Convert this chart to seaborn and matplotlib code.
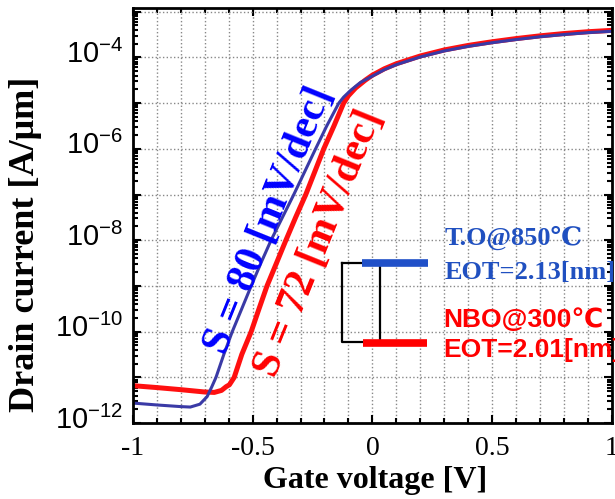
import matplotlib
matplotlib.use("Agg")
import matplotlib.pyplot as plt
import matplotlib.ticker as mticker
import matplotlib.transforms as mtransforms
import pandas as pd
import seaborn as sns

# Gate voltage [V] / drain current [A/um]
vg_to = [-1.00, -0.90, -0.80, -0.76, -0.72, -0.69, -0.67, -0.653, -0.62, -0.585,
         -0.545, -0.506, -0.465, -0.423, -0.375, -0.328, -0.282, -0.237, -0.19, -0.14,
         -0.12, -0.09, -0.05, 0.00, 0.05, 0.10, 0.20, 0.30, 0.40, 0.50,
         0.60, 0.70, 0.80, 0.90, 1.00]
id_to = [2.75e-12, 2.5e-12, 2.3e-12, 2.25e-12, 2.6e-12, 3.8e-12, 6.3e-12, 1.0e-11, 3.2e-11, 1.0e-10,
         3.2e-10, 1.0e-9, 3.2e-9, 1.0e-8, 3.2e-8, 1.0e-7, 3.2e-7, 1.0e-6, 3.2e-6, 1.0e-5,
         1.35e-5, 1.91e-5, 2.82e-5, 3.89e-5, 5.37e-5, 6.92e-5, 1.02e-4, 1.38e-4, 1.74e-4, 2.09e-4,
         2.45e-4, 2.82e-4, 3.16e-4, 3.47e-4, 3.72e-4]

vg_nbo = [-1.00, -0.90, -0.80, -0.70, -0.66, -0.63, -0.61, -0.597, -0.577, -0.545,
          -0.506, -0.473, -0.44, -0.40, -0.361, -0.32, -0.278, -0.24, -0.203, -0.16,
          -0.12, -0.10, -0.07, -0.03, 0.00, 0.05, 0.10, 0.20, 0.30, 0.40,
          0.50, 0.60, 0.70, 0.80, 0.90, 1.00]
id_nbo = [6.6e-12, 6.0e-12, 5.4e-12, 4.8e-12, 4.7e-12, 5.2e-12, 6.3e-12, 6.9e-12, 1.0e-11, 3.2e-11,
          1.0e-10, 3.2e-10, 1.0e-9, 3.2e-9, 1.0e-8, 3.2e-8, 1.0e-7, 3.2e-7, 1.0e-6, 3.2e-6,
          1.0e-5, 1.45e-5, 2.14e-5, 3.16e-5, 4.07e-5, 5.62e-5, 7.24e-5, 1.07e-4, 1.45e-4, 1.82e-4,
          2.19e-4, 2.57e-4, 2.95e-4, 3.31e-4, 3.63e-4, 3.89e-4]

x_ticks = [-1.0, -0.5, 0.0, 0.5, 1.0]
x_ticklabels = ["-1", "-0.5", "0", "0.5", "1"]
y_ticks = [1e-12, 1e-11, 1e-10, 1e-9, 1e-8, 1e-7, 1e-6, 1e-5, 1e-4, 1e-3]
y_ticklabels = [r"$\mathregular{10^{-12}}$", "", r"$\mathregular{10^{-10}}$", "",
                r"$\mathregular{10^{-8}}$", "", r"$\mathregular{10^{-6}}$", "",
                r"$\mathregular{10^{-4}}$", ""]

df = pd.concat([
    pd.DataFrame({"vg": vg_nbo, "id": id_nbo, "sample": "NBO"}),
    pd.DataFrame({"vg": vg_to, "id": id_to, "sample": "TO"}),
])

plt.rcParams["axes.unicode_minus"] = False
plt.rcParams["font.family"] = ["Liberation Serif", "DejaVu Serif"]

fig = plt.figure(figsize=(6.15, 4.99), dpi=100)
ax = fig.add_axes([0.216, 0.152, 0.779, 0.832])

sns.lineplot(data=df[df["sample"] == "NBO"], x="vg", y="id", ax=ax, color="#ff1010",
             linewidth=3.6, sort=False, estimator=None)
sns.lineplot(data=df[df["sample"] == "TO"], x="vg", y="id", ax=ax, color="#3a3aa6",
             linewidth=2.2, sort=False, estimator=None)

ax.set_yscale("log")
ax.set_xlim(-1, 1)
ax.set_ylim(1e-12, 1.2e-3)

ax.set_xticks(x_ticks)
ax.set_xticklabels(x_ticklabels, fontsize=20, family=["Liberation Serif"])
ax.xaxis.set_minor_locator(mticker.MultipleLocator(0.1))
ax.yaxis.set_major_locator(mticker.FixedLocator(y_ticks))
ax.set_yticklabels(y_ticklabels, fontsize=21, family=["Liberation Sans"])
ax.yaxis.set_minor_locator(mticker.LogLocator(base=10, subs=range(2, 10), numticks=30))
ax.yaxis.set_minor_formatter(mticker.NullFormatter())

ax.tick_params(which="both", direction="in", top=True, right=True, width=1.5)
ax.tick_params(which="major", length=6)
ax.tick_params(which="minor", length=3.5)
ax.tick_params(axis="x", which="major", pad=9)
ax.tick_params(axis="y", which="major", pad=7)
shift = mtransforms.ScaledTranslation(0, 0.06, fig.dpi_scale_trans)
for lab in ax.get_yticklabels():
    lab.set_transform(lab.get_transform() + shift)

ax.grid(True, which="major", axis="y", linestyle=":", color="#888888", linewidth=1)
ax.grid(True, which="both", axis="x", linestyle=":", color="#888888", linewidth=1)
for sp in ax.spines.values():
    sp.set_linewidth(2)
    sp.set_color("black")

ax.set_xlabel("Gate voltage [V]", fontsize=23, fontweight="bold")
ax.set_ylabel("Drain current [A/\u03bcm]", fontsize=26, fontweight="bold")
ax.xaxis.set_label_coords(0.505, -0.104)
ax.yaxis.set_label_coords(-0.19, 0.43)

# subthreshold slope annotations
ax.text(0.284, 0.489, "S = 80 [mV/dec]", transform=ax.transAxes, rotation=68,
        ha="center", va="center", rotation_mode="anchor", fontsize=30,
        fontweight="bold", color="#0000ff")
ax.text(0.389, 0.434, "S = 72 [mV/dec]", transform=ax.transAxes, rotation=68,
        ha="center", va="center", rotation_mode="anchor", fontsize=30,
        fontweight="bold", color="#ff0000")

# hand-drawn legend
k = dict(transform=ax.transAxes, clip_on=False)
ax.plot([0.436, 0.436, 0.516, 0.516, 0.436], [0.386, 0.195, 0.195, 0.386, 0.386],
        color="black", linewidth=1.6, **k)
ax.plot([0.478, 0.616], [0.386, 0.386], color="#2050c8", linewidth=5.5,
        solid_capstyle="butt", **k)
ax.plot([0.480, 0.614], [0.192, 0.192], color="#ff0000", linewidth=5.5,
        solid_capstyle="butt", **k)

blue_txt = "#2050c0"
ax.text(0.651, 0.446, "T.O@850\u2103", transform=ax.transAxes, ha="left", va="center",
        fontsize=19, fontweight="bold", color=blue_txt,
        family=["Liberation Serif", "DejaVu Serif"])
ax.text(0.651, 0.364, "EOT=2.13[nm]", transform=ax.transAxes, ha="left", va="center",
        fontsize=19, fontweight="bold", color=blue_txt, family=["Liberation Serif"])
ax.text(0.647, 0.248, "NBO@300\u2103", transform=ax.transAxes, ha="left", va="center",
        fontsize=19, fontweight="bold", color="#ff0000",
        family=["Liberation Sans", "DejaVu Sans"])
ax.text(0.647, 0.176, "EOT=2.01[nm]", transform=ax.transAxes, ha="left", va="center",
        fontsize=19, fontweight="bold", color="#ff0000", family=["Liberation Sans"])

fig.savefig("out.png", dpi=100)
